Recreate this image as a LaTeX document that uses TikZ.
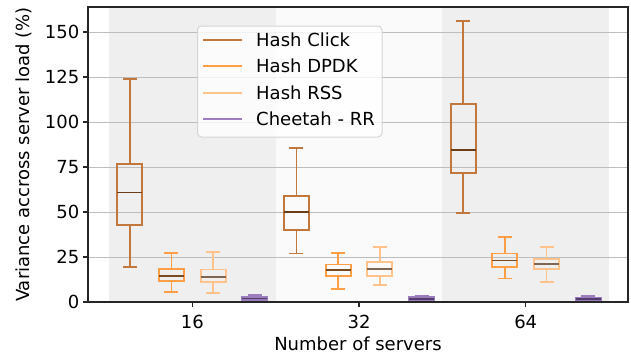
\documentclass[tikz,border=0pt]{standalone}
\usepackage{fontspec}
\setmainfont{DejaVu Sans}
\definecolor{cClick}{HTML}{C2783C}
\definecolor{cDPDK}{HTML}{FF9E45}
\definecolor{cRSS}{HTML}{FFC28A}
\definecolor{cCheetah}{HTML}{9B7DBE}
\definecolor{mClick}{HTML}{6B3D17}
\definecolor{mDPDK}{HTML}{7A4A20}
\definecolor{mRSS}{HTML}{806650}
\definecolor{mCheetah}{HTML}{553D6B}
\definecolor{bgdark}{HTML}{EFEFEF}
\definecolor{bglight}{HTML}{FAFAFA}
\definecolor{gridc}{HTML}{BDBDBD}
\definecolor{legedge}{HTML}{D5D5D5}
\definecolor{spinec}{HTML}{262626}
\tikzset{
  boxline/.style={line width=1.75pt},
  gridline/.style={draw=gridc, line width=1pt},
  spine/.style={draw=spinec, line width=1.2pt},
  tickmark/.style={draw=spinec, line width=1.2pt},
  lab/.style={inner sep=0pt, font=\fontsize{18}{21.6}\selectfont},
  legline/.style={line width=2.2pt},
  legframe/.style={draw=legedge, fill=white, fill opacity=0.8, line width=1pt, rounded corners=4pt}
}
\newcommand\bplot[9]{%
  \pgfmathsetmacro\bpX{192.3+166.7*(#1+#2)}%
  \pgfmathsetmacro\bpA{302-1.8*#5}%
  \pgfmathsetmacro\bpB{302-1.8*#6}%
  \pgfmathsetmacro\bpC{302-1.8*#7}%
  \pgfmathsetmacro\bpD{302-1.8*#8}%
  \pgfmathsetmacro\bpE{302-1.8*#9}%
  \draw[boxline,#3] (\bpX,\bpA) -- (\bpX,\bpB) (\bpX,\bpD) -- (\bpX,\bpE)
    ({\bpX-7},\bpA) -- ({\bpX+7},\bpA) ({\bpX-7},\bpE) -- ({\bpX+7},\bpE);
  \draw[boxline,#3] ({\bpX-12.5},\bpB) rectangle ({\bpX+12.5},\bpD);
  \draw[boxline,#4] ({\bpX-12.5},\bpC) -- ({\bpX+12.5},\bpC);
}
\begin{document}
\begin{tikzpicture}[x=1pt,y=-1pt]
\useasboundingbox (0,0) rectangle (631,360);
\fill[white] (0,0) rectangle (631,360);
% group backgrounds
\fill[bgdark] (109,7) rectangle (275.6,302);
\fill[bglight] (275.6,7) rectangle (442.3,302);
\fill[bgdark] (442.3,7) rectangle (609,302);
% grid
\foreach \v in {25,50,...,150} {
  \draw[gridline] (88,{302-1.8*\v}) -- (628,{302-1.8*\v});
}
% boxes: group, offset, color, median color, bottom, q1, median, q3, top
\bplot{0}{-0.375}{cClick}{mClick}{19.4}{42.8}{60.9}{76.8}{124}
\bplot{0}{-0.125}{cDPDK}{mDPDK}{5.7}{11.5}{14.6}{18.3}{27.2}
\bplot{0}{0.125}{cRSS}{mRSS}{5.0}{11.3}{14.1}{18.0}{27.8}
\bplot{0}{0.375}{cCheetah}{mCheetah}{0.4}{1.1}{1.9}{2.8}{3.9}
\bplot{1}{-0.375}{cClick}{mClick}{26.9}{40.0}{49.8}{58.9}{85.7}
\bplot{1}{-0.125}{cDPDK}{mDPDK}{7.2}{14.6}{17.8}{20.9}{27.2}
\bplot{1}{0.125}{cRSS}{mRSS}{9.6}{14.6}{18.5}{22.4}{30.7}
\bplot{1}{0.375}{cCheetah}{mCheetah}{0.5}{1.0}{1.8}{2.6}{3.5}
\bplot{2}{-0.375}{cClick}{mClick}{49.6}{71.8}{84.3}{110.2}{156.1}
\bplot{2}{-0.125}{cDPDK}{mDPDK}{13.1}{19.4}{23.1}{26.9}{36.3}
\bplot{2}{0.125}{cRSS}{mRSS}{11.3}{18.5}{21.1}{23.9}{30.7}
\bplot{2}{0.375}{cCheetah}{mCheetah}{0.6}{1.1}{1.7}{2.4}{3.2}
% spines
\draw[spine] (88,7) rectangle (628,302);
% y ticks
\foreach \v/\n in {0/y0,25/y25,50/y50,75/y75,100/y100,125/y125,150/y150} {
  \draw[tickmark] (83,{302-1.8*\v}) -- (88,{302-1.8*\v});
  \node[lab, anchor=east] (\n) at (79.5,{302-1.8*\v}) {\v};
}
% x ticks
\foreach \g/\t in {0/16,1/32,2/64} {
  \draw[tickmark] ({192.3+166.7*\g},302) -- ({192.3+166.7*\g},307);
  \node[lab] (x\t) at ({192.3+166.7*\g},322) {\t};
}
% axis labels
\node[lab] (xlabel) at (358,344) {Number of servers};
\node[lab, rotate=90] (ylabel) at (24,154.5) {Variance accross server load (\%)};
% legend
\draw[legframe] (197.5,26) rectangle (382,137);
\foreach \yy/\c/\t/\n in {40/cClick/Hash Click/l1, 66.3/cDPDK/Hash DPDK/l2, 93/cRSS/Hash RSS/l3, 119.3/cCheetah/Cheetah - RR/l4} {
  \draw[legline, \c] (203,\yy) -- (242,\yy);
  \node[lab, anchor=base west] (\n) at (256,{\yy+6.5}) {\t};
}
\end{tikzpicture}
\end{document}
